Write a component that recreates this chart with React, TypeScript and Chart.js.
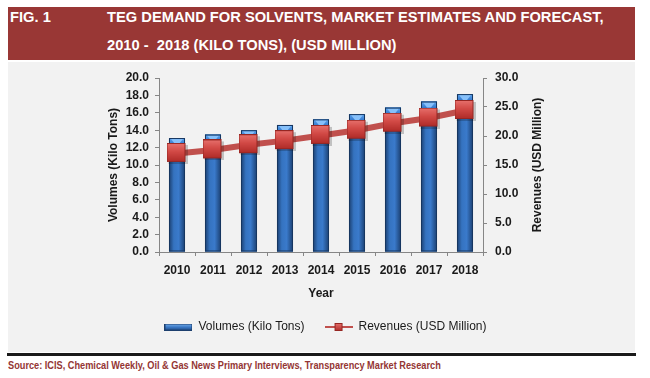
import React, { useEffect, useRef } from "react";
import { Chart, registerables } from "chart.js";

Chart.register(...registerables);

const years = ["2010", "2011", "2012", "2013", "2014", "2015", "2016", "2017", "2018"];
const volumes = [13.1, 13.5, 14.0, 14.6, 15.25, 15.85, 16.6, 17.3, 18.15];
const revenues = [17.0, 17.6, 18.5, 19.2, 20.1, 21.0, 22.2, 23.1, 24.4];
const volumeLabel = "Volumes (Kilo Tons)";
const revenueLabel = "Revenues (USD Million)";
const titleLine1 = "TEG DEMAND FOR SOLVENTS, MARKET ESTIMATES AND FORECAST,";
const titleLine2 = "2010 -  2018 (KILO TONS), (USD MILLION)";
const figLabel = "FIG. 1";
const sourceText = "Source: ICIS, Chemical Weekly, Oil & Gas News Primary Interviews, Transparency Market Research";

const FONT = "'Liberation Sans', Arial, sans-serif";

function makeMarker(): HTMLCanvasElement {
  const c = document.createElement("canvas");
  c.width = 21;
  c.height = 21;
  const ctx = c.getContext("2d")!;
  ctx.fillStyle = "rgba(0,0,0,0.2)";
  ctx.fillRect(2, 2, 19, 19);
  const g = ctx.createLinearGradient(0, 0, 0, 19);
  g.addColorStop(0, "#e8726e");
  g.addColorStop(0.45, "#d24a46");
  g.addColorStop(1, "#ae2a27");
  ctx.fillStyle = g;
  ctx.fillRect(0, 0, 19, 19);
  ctx.strokeStyle = "#962622";
  ctx.lineWidth = 1;
  ctx.strokeRect(0.5, 0.5, 18, 18);
  return c;
}

function makeBarIcon(): HTMLCanvasElement {
  const c = document.createElement("canvas");
  c.width = 28;
  c.height = 7;
  const ctx = c.getContext("2d")!;
  const g = ctx.createLinearGradient(0, 0, 0, 7);
  g.addColorStop(0, "#7fb4ee");
  g.addColorStop(0.5, "#3d7cc9");
  g.addColorStop(1, "#1f4a85");
  ctx.fillStyle = g;
  ctx.fillRect(0, 0, 28, 7);
  ctx.strokeStyle = "#1d3f6e";
  ctx.strokeRect(0.5, 0.5, 27, 6);
  return c;
}

function makeLineIcon(): HTMLCanvasElement {
  const c = document.createElement("canvas");
  c.width = 28;
  c.height = 10;
  const ctx = c.getContext("2d")!;
  ctx.fillStyle = "#c0504d";
  ctx.fillRect(0, 4, 28, 2);
  const g = ctx.createLinearGradient(0, 1, 0, 9);
  g.addColorStop(0, "#e8726e");
  g.addColorStop(1, "#ae2a27");
  ctx.fillStyle = g;
  ctx.fillRect(10, 1, 8, 8);
  ctx.strokeStyle = "#962622";
  ctx.strokeRect(10.5, 1.5, 7, 7);
  return c;
}

const barStylePlugin = {
  id: "barStyle",
  afterDatasetDraw(chart: any, args: any) {
    if (args.index !== 0) return;
    const meta = chart.getDatasetMeta(0);
    const ctx = chart.ctx as CanvasRenderingContext2D;
    meta.data.forEach((el: any) => {
      const { x, y, width, base } = el.getProps(["x", "y", "width", "base"], true);
      const l = x - width / 2;
      const r = x + width / 2;
      ctx.save();
      const g = ctx.createLinearGradient(l, 0, r, 0);
      g.addColorStop(0, "#1b3f70");
      g.addColorStop(0.3, "#3573c0");
      g.addColorStop(0.6, "#3a7acb");
      g.addColorStop(1, "#1b3f70");
      ctx.fillStyle = g;
      ctx.fillRect(l, y, width, base - y);
      const capH = 7;
      const cg = ctx.createLinearGradient(0, y, 0, y + capH);
      cg.addColorStop(0, "#5fa6f0");
      cg.addColorStop(1, "#2f73c8");
      ctx.fillStyle = cg;
      ctx.fillRect(l, y, width, capH);
      ctx.beginPath();
      ctx.moveTo(l + 2, y + 1);
      ctx.lineTo(r - 2, y + 1);
      ctx.lineTo(x + 2, y + capH - 1);
      ctx.lineTo(x - 2, y + capH - 1);
      ctx.closePath();
      ctx.fillStyle = "#86c0fa";
      ctx.fill();
      ctx.strokeStyle = "#173760";
      ctx.lineWidth = 1;
      ctx.strokeRect(l + 0.5, y + 0.5, width - 1, base - y - 1);
      ctx.restore();
    });
  },
};

const rightTitlePlugin = {
  id: "rightTitle",
  afterDraw(chart: any) {
    const s = chart.scales.y1;
    const ctx = chart.ctx as CanvasRenderingContext2D;
    ctx.save();
    ctx.font = `bold 12px ${FONT}`;
    ctx.fillStyle = "#1a1a1a";
    ctx.textAlign = "center";
    ctx.textBaseline = "middle";
    ctx.translate(s.right - 11.2, (s.top + s.bottom) / 2);
    ctx.rotate(-Math.PI / 2);
    ctx.fillText(revenueLabel, 0, 0);
    ctx.restore();
  },
};

export default function App() {
  const ref = useRef<HTMLCanvasElement | null>(null);

  useEffect(() => {
    if (!ref.current) return;
    Chart.defaults.font.family = FONT;
    const marker = makeMarker();
    const barIcon = makeBarIcon();
    const lineIcon = makeLineIcon();
    const tickFont = { size: 12, weight: "bold" as const, family: FONT };
    const axisColor = "#868686";
    const chart = new Chart(ref.current, {
      type: "bar",
      data: {
        labels: years,
        datasets: [
          {
            type: "bar",
            label: volumeLabel,
            data: volumes,
            yAxisID: "y",
            backgroundColor: "#2f6cb8",
            barPercentage: 0.445,
            categoryPercentage: 1,
            order: 1,
          },
          {
            type: "line",
            label: revenueLabel,
            data: revenues,
            yAxisID: "y1",
            borderColor: "#c0504d",
            borderWidth: 6,
            pointStyle: marker as any,
            pointRadius: 10,
            pointHoverRadius: 10,
            tension: 0,
            order: 0,
          } as any,
        ],
      },
      options: {
        animation: false,
        responsive: false,
        maintainAspectRatio: false,
        layout: { padding: { left: 94, right: 86, top: 14, bottom: 9 } },
        plugins: {
          tooltip: { enabled: false },
          legend: {
            position: "bottom",
            labels: {
              usePointStyle: true,
              pointStyleWidth: 28,
              padding: 20,
              color: "#1a1a1a",
              font: { size: 12, family: FONT },
              generateLabels: () => [
                { text: volumeLabel, pointStyle: barIcon as any, fillStyle: "#2f6cb8", strokeStyle: "#2f6cb8", lineWidth: 0, hidden: false, datasetIndex: 0, fontColor: "#1a1a1a" },
                { text: revenueLabel, pointStyle: lineIcon as any, fillStyle: "#c0504d", strokeStyle: "#c0504d", lineWidth: 0, hidden: false, datasetIndex: 1, fontColor: "#1a1a1a" },
              ],
            },
          },
        },
        scales: {
          x: {
            offset: true,
            grid: { display: true, drawOnChartArea: false, drawTicks: true, tickLength: 4, color: axisColor, offset: true },
            border: { display: true, color: axisColor },
            ticks: { color: "#1a1a1a", font: tickFont, padding: 7, maxRotation: 0 },
            title: { display: true, text: "Year", color: "#1a1a1a", font: tickFont, padding: { top: 0, bottom: 0 } },
            afterFit: (s: any) => {
              s.height = 49;
            },
          },
          y: {
            position: "left",
            min: 0,
            max: 20,
            grid: { display: true, drawOnChartArea: false, drawTicks: true, tickLength: 4, color: axisColor },
            border: { display: true, color: axisColor },
            ticks: {
              stepSize: 2,
              color: "#1a1a1a",
              font: tickFont,
              padding: 6,
              callback: (v: any) => Number(v).toFixed(1),
            },
            title: { display: true, text: volumeLabel, color: "#1a1a1a", font: tickFont, padding: { top: 4, bottom: 4 } },
            afterFit: (s: any) => {
              s.width = 57;
            },
          },
          y1: {
            position: "right",
            min: 0,
            max: 30,
            grid: { display: true, drawOnChartArea: false, drawTicks: true, tickLength: 4, color: axisColor },
            border: { display: true, color: axisColor },
            ticks: {
              stepSize: 5,
              color: "#1a1a1a",
              font: tickFont,
              padding: 8,
              callback: (v: any) => Number(v).toFixed(1),
            },
            title: { display: false },
            afterFit: (s: any) => {
              s.width = 66;
            },
          },
        },
      },
      plugins: [barStylePlugin, rightTitlePlugin],
    } as any);
    return () => chart.destroy();
  }, []);

  return (
    <div style={{ position: "absolute", left: 0, top: 0, width: 650, height: 378, background: "#ffffff", fontFamily: FONT }}>
      <div
        style={{
          position: "absolute",
          left: 8,
          top: 7,
          width: 627,
          height: 53,
          background: "#993735",
          color: "#ffffff",
          fontWeight: "bold",
          fontSize: 14.7,
        }}
      >
        <div style={{ position: "absolute", left: 2, top: 2, lineHeight: "17px", whiteSpace: "pre" }}>{figLabel}</div>
        <div style={{ position: "absolute", left: 99, top: 2, lineHeight: "17px", whiteSpace: "pre" }}>{titleLine1}</div>
        <div style={{ position: "absolute", left: 99, top: 30, lineHeight: "17px", whiteSpace: "pre" }}>{titleLine2}</div>
      </div>
      <div style={{ position: "absolute", left: 8, top: 62, width: 627, height: 290, background: "#f2f2f2" }} />
      <canvas ref={ref} width={627} height={290} style={{ position: "absolute", left: 8, top: 62, width: 627, height: 290 }} />
      <div style={{ position: "absolute", left: 7, top: 353, width: 629, height: 3, background: "#1a1a1a" }} />
      <div
        style={{
          position: "absolute",
          left: 8,
          top: 360,
          fontSize: 10,
          lineHeight: "12px",
          fontWeight: "bold",
          color: "#943634",
          whiteSpace: "nowrap",
          transform: "scaleX(0.92)",
          transformOrigin: "0 0",
        }}
      >
        {sourceText}
      </div>
    </div>
  );
}
